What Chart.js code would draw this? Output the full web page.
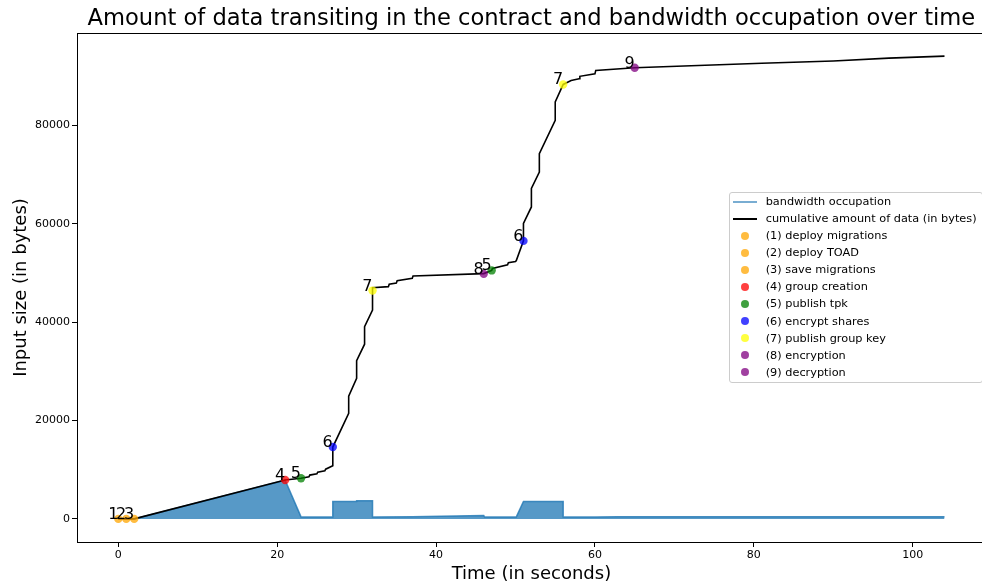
<!DOCTYPE html>
<html>
<head>
<meta charset="utf-8">
<script src="https://cdn.jsdelivr.net/npm/chart.js@4"></script>
<style>
html,body{margin:0;padding:0;background:#fff;width:982px;height:585px;overflow:hidden;}
#wrap{position:relative;width:982px;height:585px;overflow:hidden;}
#c{position:absolute;left:0;top:0;}
#legend{position:absolute;left:729px;top:192px;width:254px;height:191px;box-sizing:border-box;border:1px solid #cccccc;border-radius:3px;background:rgba(255,255,255,0.8);font-family:'DejaVu Sans';font-size:11.3px;color:#000;padding-top:0.2px;}
.row{position:relative;height:17.06px;line-height:17.06px;white-space:nowrap;}
.row .txt{position:absolute;left:35.7px;top:0;}
.row .ln{position:absolute;left:3.3px;width:24px;top:7.6px;height:2px;}
.row .dot{position:absolute;left:11px;top:4.5px;width:8px;height:8px;border-radius:50%;}
</style>
</head>
<body>
<div id="wrap">
<canvas id="c" width="990" height="585" style="width:990px;height:585px"></canvas>
<div id="legend"></div>
</div>
<script>
// ---- data ----
const titleText = 'Amount of data transiting in the contract and bandwidth occupation over time';
const xTitle = 'Time (in seconds)';
const yTitle = 'Input size (in bytes)';

const cumTime  = [0, 1, 2, 21, 23, 24, 24.1, 25, 25.1, 26, 26.1, 27, 27, 29, 29, 30, 30, 31, 31, 32, 32, 32, 34, 34.1, 35, 35.1, 37, 37.1, 46, 47, 47.1, 49, 49.1, 50, 50.1, 51, 51, 52, 52, 53, 53, 55, 55, 56, 57, 58, 58.1, 60, 60.1, 65, 81, 90, 97, 104];
const cumBytes = [0, 0, 0, 7900, 8250, 8550, 8900, 9150, 9500, 9750, 10100, 10800, 14600, 21450, 24950, 28550, 32150, 35500, 39050, 42450, 46400, 47000, 47200, 47700, 47950, 48400, 48900, 49350, 49850, 50500, 50900, 51650, 52050, 52300, 52500, 56500, 60050, 63400, 67150, 70500, 74250, 81000, 84750, 88300, 89100, 89450, 89950, 90450, 91150, 91700, 92600, 93050, 93650, 94050];

const bwTime  = [0, 2, 21, 23, 27, 27, 30, 30, 32, 32, 37, 46, 46.1, 50.1, 51, 56, 56, 60, 63, 104];
const bwBytes = [0, 0, 7850, 400, 400, 3520, 3520, 3680, 3680, 400, 420, 700, 400, 400, 3520, 3520, 380, 380, 430, 430];

const categoryNames = ['(1) deploy migrations', '(2) deploy TOAD', '(3) save migrations', '(4) group creation', '(5) publish tpk', '(6) encrypt shares', '(7) publish group key', '(8) encryption', '(9) decryption'];
const categoryTags  = ['1', '2', '3', '4', '5', '6', '7', '8', '9'];

const eventCategory = [1, 2, 3, 4, 5, 6, 7, 8, 5, 6, 7, 9];
const eventTime     = [0, 1, 2, 21, 23, 27, 32, 46, 47, 51, 56, 65];
const eventBytes    = [0, 0, 0, 7900, 8250, 14600, 46400, 49800, 50500, 56500, 88300, 91700];

const seriesNames = ['bandwidth occupation', 'cumulative amount of data (in bytes)'];
const xTicks = [0, 20, 40, 60, 80, 100];
const yTicks = [0, 20000, 40000, 60000, 80000];

// ---- styles ----
const categoryColors = ['rgba(255,165,0,0.75)', 'rgba(255,165,0,0.75)', 'rgba(255,165,0,0.75)', 'rgba(255,0,0,0.75)', 'rgba(0,128,0,0.75)', 'rgba(0,0,255,0.75)', 'rgba(255,255,0,0.75)', 'rgba(128,0,128,0.75)', 'rgba(128,0,128,0.75)'];
const bwLine = 'rgba(31,119,180,0.8)';
const bwFill = 'rgba(31,119,180,0.75)';

Chart.defaults.font.family = "'DejaVu Sans'";
Chart.defaults.color = '#000';

const zip = (xs, ys) => xs.map((x, i) => ({x: x, y: ys[i]}));

const datasets = [
  {type: 'line', label: seriesNames[0], data: zip(bwTime, bwBytes), borderColor: bwLine, backgroundColor: bwFill,
   borderWidth: 1.5, fill: 'origin', pointRadius: 0, tension: 0, order: 100, legendKind: 'line', legendColor: 'rgba(31,119,180,0.6)'},
  {type: 'line', label: seriesNames[1], data: zip(cumTime, cumBytes), borderColor: '#000', backgroundColor: '#000',
   borderWidth: 1.6, fill: false, pointRadius: 0, tension: 0, order: 50, legendKind: 'line', legendColor: '#000'}
];
categoryNames.forEach((name, k) => {
  const pts = [];
  eventCategory.forEach((c, i) => { if (c === k + 1) pts.push({x: eventTime[i], y: eventBytes[i]}); });
  datasets.push({type: 'scatter', label: name, data: pts, pointRadius: 4.2, pointHoverRadius: 4.2,
    pointBackgroundColor: categoryColors[k], pointBorderWidth: 0, borderWidth: 0, backgroundColor: categoryColors[k],
    order: 20 - k, pointText: categoryTags[k], legendKind: 'dot', legendColor: categoryColors[k]});
});

const framePlugin = {
  id: 'frame',
  afterDatasetsDraw(chart) {
    const a = chart.chartArea, c = chart.ctx;
    c.save();
    c.strokeStyle = '#000';
    c.lineWidth = 1;
    c.strokeRect(Math.round(a.left) + 0.5, Math.round(a.top) + 0.5, Math.round(a.right - a.left), Math.round(a.bottom - a.top));
    c.restore();
  }
};

const tagPlugin = {
  id: 'tags',
  afterDatasetsDraw(chart) {
    const c = chart.ctx;
    c.save();
    c.font = "16px 'DejaVu Sans'";
    c.fillStyle = '#000';
    c.textAlign = 'right';
    c.textBaseline = 'alphabetic';
    chart.data.datasets.forEach((ds, i) => {
      if (!ds.pointText) return;
      chart.getDatasetMeta(i).data.forEach(el => c.fillText(ds.pointText, el.x, el.y));
    });
    c.restore();
  }
};

const htmlLegend = {
  id: 'htmlLegend',
  afterUpdate(chart) {
    const box = document.getElementById('legend');
    box.innerHTML = '';
    chart.data.datasets.forEach(ds => {
      const row = document.createElement('div');
      row.className = 'row';
      const sw = document.createElement('span');
      if (ds.legendKind === 'line') { sw.className = 'ln'; sw.style.background = ds.legendColor; }
      else { sw.className = 'dot'; sw.style.background = ds.legendColor; }
      const t = document.createElement('span');
      t.className = 'txt';
      t.textContent = ds.label;
      row.appendChild(sw); row.appendChild(t);
      box.appendChild(row);
    });
  }
};

new Chart(document.getElementById('c'), {
  type: 'line',
  data: {datasets: datasets},
  options: {
    responsive: false,
    animation: false,
    devicePixelRatio: 1,
    layout: {padding: {left: 0, top: 0, right: 3.6, bottom: 0}},
    plugins: {
      legend: {display: false},
      tooltip: {enabled: false},
      title: {display: true, text: titleText, fullSize: false, color: '#000',
              font: {size: 22.6, weight: 'normal'}, padding: {top: 5.3, bottom: 0.6}}
    },
    scales: {
      x: {
        type: 'linear', min: -5.2, max: 109.2,
        afterBuildTicks: ax => { ax.ticks = xTicks.map(v => ({value: v})); },
        afterFit: ax => { ax.height = 43; },
        grid: {display: true, drawOnChartArea: false, drawTicks: true, tickLength: 5, color: '#000', tickColor: '#000'},
        border: {display: false},
        ticks: {font: {size: 11}, color: '#000', padding: 2, maxRotation: 0, autoSkip: false, callback: v => String(v)},
        title: {display: true, text: xTitle, font: {size: 18}, color: '#000', padding: {top: 0, bottom: 0}}
      },
      y: {
        type: 'linear', min: -4700, max: 98750,
        afterBuildTicks: ax => { ax.ticks = yTicks.map(v => ({value: v})); },
        afterFit: ax => { ax.width = 77; },
        grid: {display: true, drawOnChartArea: false, drawTicks: true, tickLength: 5, color: '#000', tickColor: '#000'},
        border: {display: false},
        ticks: {font: {size: 11}, color: '#000', padding: 2, autoSkip: false, callback: v => String(v)},
        title: {display: true, text: yTitle, font: {size: 18}, color: '#000', padding: {top: 10.7, bottom: 0}}
      }
    }
  },
  plugins: [framePlugin, tagPlugin, htmlLegend]
});
</script>
</body>
</html>
